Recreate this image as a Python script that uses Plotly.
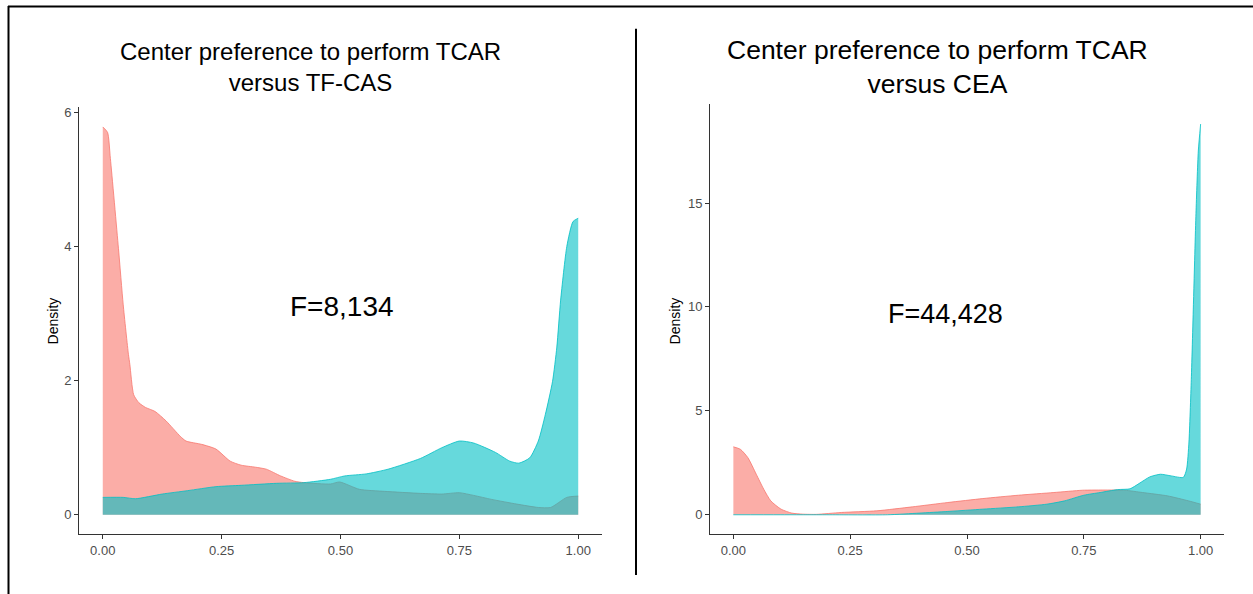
import plotly.graph_objects as go

# ---------------- data ----------------
# Left panel: TCAR versus TF-CAS
left_red_x = [0.000, 0.010, 0.016, 0.033, 0.043, 0.054, 0.057, 0.065, 0.076, 0.090, 0.110, 0.133,
              0.163, 0.175, 0.208, 0.238, 0.268, 0.291, 0.321, 0.344, 0.374, 0.404, 0.423, 0.479,
              0.498, 0.540, 0.593, 0.668, 0.713, 0.750, 0.780, 0.818, 0.871, 0.916, 0.942, 0.976, 1.000]
left_red_y = [5.78, 5.70, 5.31, 3.97, 3.13, 2.39, 2.24, 1.79, 1.67, 1.60, 1.54, 1.40,
              1.17, 1.10, 1.05, 0.98, 0.80, 0.74, 0.71, 0.68, 0.58, 0.50, 0.48, 0.46,
              0.49, 0.38, 0.35, 0.32, 0.31, 0.33, 0.29, 0.23, 0.16, 0.11, 0.11, 0.26, 0.28]
left_cyan_x = [0.000, 0.043, 0.069, 0.125, 0.178, 0.238, 0.291, 0.366, 0.423, 0.479, 0.509, 0.554,
               0.600, 0.668, 0.713, 0.750, 0.780, 0.826, 0.856, 0.875, 0.898, 0.916, 0.931, 0.946,
               0.955, 0.963, 0.976, 0.989, 1.000]
left_cyan_y = [0.26, 0.26, 0.24, 0.31, 0.36, 0.42, 0.44, 0.47, 0.48, 0.53, 0.58, 0.61,
               0.68, 0.84, 1.00, 1.10, 1.07, 0.93, 0.80, 0.77, 0.85, 1.10, 1.50, 1.99,
               2.50, 3.20, 4.00, 4.37, 4.42]

# Right panel: TCAR versus CEA
right_red_x = [0.000, 0.015, 0.031, 0.049, 0.065, 0.080, 0.102, 0.125, 0.148, 0.178, 0.231, 0.307,
               0.383, 0.459, 0.534, 0.610, 0.686, 0.747, 0.800, 0.838, 0.876, 0.929, 0.974, 1.000]
right_red_y = [3.27, 3.15, 2.75, 1.95, 1.23, 0.67, 0.27, 0.08, 0.03, 0.02, 0.11, 0.19,
               0.38, 0.59, 0.78, 0.94, 1.07, 1.18, 1.19, 1.18, 1.07, 0.91, 0.67, 0.51]
right_cyan_x = [0.000, 0.100, 0.200, 0.330, 0.398, 0.459, 0.534, 0.610, 0.671, 0.709, 0.750, 0.785,
                0.822, 0.849, 0.868, 0.891, 0.914, 0.937, 0.963, 0.970, 0.975, 0.980, 0.985, 0.990,
                0.995, 1.000]
right_cyan_y = [0.00, 0.00, 0.00, 0.00, 0.08, 0.16, 0.27, 0.38, 0.51, 0.67, 0.94, 1.07,
                1.21, 1.25, 1.50, 1.82, 1.95, 1.87, 1.80, 2.20, 3.50, 6.50, 10.50, 14.50,
                17.50, 18.80]

x_ticks = [0, 0.25, 0.5, 0.75, 1.0]
x_tick_labels = ["0.00", "0.25", "0.50", "0.75", "1.00"]
left_y_ticks = [0, 2, 4, 6]
right_y_ticks = [0, 5, 10, 15]

left_title = "Center preference to perform TCAR<br>versus TF-CAS"
right_title = "Center preference to perform TCAR<br>versus CEA"
left_stat = "F=8,134"
right_stat = "F=44,428"
y_label = "Density"

# ---------------- styling ----------------
W, H = 1253, 594
RED_FILL = "rgba(248,118,109,0.6)"
RED_LINE = "#F8766D"
CYAN_FILL = "rgba(0,191,196,0.6)"
CYAN_LINE = "#00BFC4"
FONT = "Liberation Sans, Arial, sans-serif"

def px(x):
    return x / W

def py(y):
    return 1 - y / H

fig = go.Figure()

def add_area(x, y, xa, ya, fill, line):
    fig.add_trace(go.Scatter(
        x=x, y=y, xaxis=xa, yaxis=ya, mode="lines", fill="tozeroy",
        fillcolor=fill, line=dict(color=line, width=0.8, shape="spline", smoothing=0.6),
        showlegend=False, hoverinfo="skip"))

add_area(left_red_x, left_red_y, "x", "y", RED_FILL, RED_LINE)
add_area(left_cyan_x, left_cyan_y, "x", "y", CYAN_FILL, CYAN_LINE)
add_area(right_red_x, right_red_y, "x2", "y2", RED_FILL, RED_LINE)
add_area(right_cyan_x, right_cyan_y, "x2", "y2", CYAN_FILL, CYAN_LINE)

axis_common = dict(showgrid=False, zeroline=False, showline=True, linecolor="#333333",
                   linewidth=1, ticks="outside", ticklen=4, tickcolor="#333333",
                   tickfont=dict(family=FONT, size=13, color="#4D4D4D"))

fig.update_layout(
    width=W, height=H,
    margin=dict(l=0, r=0, t=0, b=0),
    paper_bgcolor="white", plot_bgcolor="white",
    xaxis=dict(domain=[px(79), px(602)], range=[-0.05, 1.05], anchor="y",
               tickvals=x_ticks, ticktext=x_tick_labels, **axis_common),
    yaxis=dict(domain=[py(534), py(105)], range=[-0.29, 6.07], anchor="x",
               tickvals=left_y_ticks, **axis_common),
    xaxis2=dict(domain=[px(710), px(1224)], range=[-0.05, 1.05], anchor="y2",
                tickvals=x_ticks, ticktext=x_tick_labels, **axis_common),
    yaxis2=dict(domain=[py(534), py(102)], range=[-0.94, 19.74], anchor="x2",
                tickvals=right_y_ticks, **axis_common),
)

# frame and divider
fig.add_shape(type="line", xref="paper", yref="paper", x0=px(8), x1=1, y0=py(3.5), y1=py(3.5),
              line=dict(color="black", width=2))
fig.add_shape(type="line", xref="paper", yref="paper", x0=px(8.5), x1=px(8.5), y0=py(3), y1=0,
              line=dict(color="black", width=2))
fig.add_shape(type="line", xref="paper", yref="paper", x0=px(636), x1=px(636), y0=py(26), y1=py(575),
              line=dict(color="black", width=2))

def ann(text, x, y, size, angle=0, color="black"):
    fig.add_annotation(text=text, xref="paper", yref="paper", x=px(x), y=py(y),
                       xanchor="center", yanchor="middle", showarrow=False, textangle=angle,
                       font=dict(family=FONT, size=size, color=color))

ann(left_title, 310, 64, 24)
ann(right_title, 937, 64, 26.5)
ann(left_stat, 342, 305, 28)
ann(right_stat, 945, 313, 27)
ann(y_label, 53, 320, 14, angle=-90)
ann(y_label, 675, 320, 14, angle=-90)

fig.write_html("out.html", config={"displayModeBar": False},
               post_script="document.body.style.margin='0';document.body.style.padding='0';")
